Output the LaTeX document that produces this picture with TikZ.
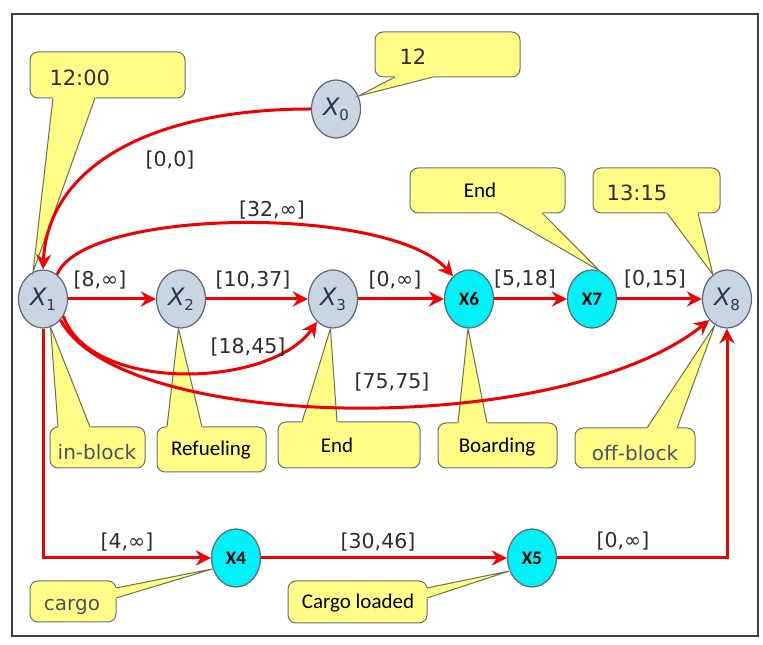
\documentclass[tikz,border=0pt]{standalone}
\usepackage{fontspec}
\setmainfont{DejaVu Sans}
\newfontfamily\calibrifont{Carlito}
\usetikzlibrary{arrows.meta,shapes.geometric}
\definecolor{nodegray}{RGB}{201,213,225}
\definecolor{nodeline}{RGB}{90,105,120}
\definecolor{nodetext}{RGB}{45,55,75}
\definecolor{cyannode}{RGB}{0,240,248}
\definecolor{noteyellow}{RGB}{255,255,136}
\definecolor{notegray}{RGB}{105,112,108}
\definecolor{slate}{RGB}{72,84,100}
\definecolor{labelgray}{RGB}{45,45,45}
\definecolor{edgered}{RGB}{240,0,0}
\def\xs#1{{\itshape X}\raisebox{-5pt}{\fontsize{15}{15}\selectfont #1}}
\begin{document}
\begin{tikzpicture}[x=1pt,y=1pt,
  xnode/.style={ellipse,draw=nodeline,line width=1.2pt,fill=nodegray,minimum width=49pt,
    minimum height=58pt,inner sep=0pt,text=nodetext,font=\fontsize{24}{24}\selectfont},
  cnode/.style={xnode,fill=cyannode,text=black,font=\calibrifont\bfseries\fontsize{19}{19}\selectfont},
  link/.style={draw=edgered,line width=3pt,-{Stealth[length=15pt,width=15pt,inset=5pt]}},
  lab/.style={text=labelgray,font=\fontsize{20.5}{20.5}\selectfont},
  stamp/.style={text=labelgray,font=\fontsize{21}{21}\selectfont},
  word/.style={text=black,font=\calibrifont\fontsize{21}{21}\selectfont},
  plain/.style={text=slate,font=\fontsize{20}{20}\selectfont},
  notebox/.style={fill=noteyellow,draw=notegray,line width=1pt,rounded corners=8pt},
  notegap/.style={fill=noteyellow,draw=noteyellow,line width=1.6pt,line join=round},
  noteline/.style={draw=notegray,line width=1pt}]
\useasboundingbox (0,0) rectangle (763,645);
\draw[line width=1.3pt,draw=black!75] (12,9) rectangle (758,631);
\def\note#1#2#3#4#5{
\draw[notebox] #1 rectangle #2;
\filldraw[notegap] #3 -- #5 -- #4 -- cycle;
\draw[noteline] #3 -- #5 -- #4;
}
\node[xnode] (x0) at (336,536) {\xs{0}};
\node[xnode] (x1) at (43,346) {\xs{1}};
\node[xnode] (x2) at (181,346) {\xs{2}};
\node[xnode] (x3) at (333,346) {\xs{3}};
\node[cnode] (x6) at (469,346) {X6};
\node[cnode] (x7) at (592,346) {X7};
\node[xnode] (x8) at (727,346) {\xs{8}};
\node[cnode] (x4) at (236,87) {X4};
\node[cnode] (x5) at (532,87) {X5};
\note{(30,547)}{(185,593)}{(53,547)}{(95,547)}{(x1.110)}
\node[stamp,right] (t1200) at (46,567) {12:00};
\note{(375,568)}{(520,613)}{(395,568)}{(433,568)}{(x0.30)}
\node[stamp,right] (t12) at (396,588) {12};
\note{(410,432)}{(565,477)}{(500,432)}{(542,432)}{(x7.75)}
\node[word] (tend1) at (480,455) {End};
\note{(593,432)}{(720,477)}{(667,432)}{(698,432)}{(x8.120)}
\node[stamp] (t1315) at (637,452) {13:15};
\note{(50,177)}{(145,218)}{(58,218)}{(90,218)}{(x1.-75)}
\node[plain] (tin) at (97,193) {in-block};
\note{(157,173)}{(266,218)}{(167,218)}{(202,218)}{(x2.-95)}
\node[word] (tref) at (211,195) {Refueling};
\note{(278,177)}{(420,223)}{(302,223)}{(337,223)}{(x3.-95)}
\node[word] (tend2) at (337,200) {End};
\note{(438,177)}{(557,222)}{(458,222)}{(487,222)}{(x6.-92)}
\node[word] (tboard) at (497,198) {Boarding};
\note{(575,177)}{(695,217)}{(647,217)}{(677,217)}{(x8.-115)}
\node[plain] (toff) at (635,192) {off-block};
\note{(30,23)}{(116,64)}{(116,57)}{(116,47)}{(x4.-155)}
\node[plain] (tcargo) at (72,38) {cargo};
\note{(288,22)}{(427,64)}{(427,57)}{(427,47)}{(x5.-150)}
\node[word] (tload) at (358,42) {Cargo loaded};
\draw[link] (x0.west) .. controls (150,536) and (48,478) .. (x1.north);
\draw[link] (x1.60) .. controls (85,438) and (390,440) .. (x6.125);
\draw[link] (x1) -- (x2);
\draw[link] (x2) -- (x3);
\draw[link] (x3) -- (x6);
\draw[link] (x6) -- (x7);
\draw[link] (x7) -- (x8);
\draw[link] (x1.-40) .. controls (90,252) and (270,256) .. (x3.-125);
\draw[link] (x1.-50) .. controls (120,212) and (560,205) .. (x8.-130);
\draw[link] (x1.south) |- (x4);
\draw[link] (x4) -- (x5);
\draw[link] (x5) -| (x8);
\node[lab] (l00) at (170,485) {[0,0]};
\node[lab] (l32) at (272,435) {[32,∞]};
\node[lab] (l8) at (100,365) {[8,∞]};
\node[lab] (l1037) at (253,365) {[10,37]};
\node[lab] (l0a) at (395,365) {[0,∞]};
\node[lab] (l518) at (525,366) {[5,18]};
\node[lab] (l015) at (655,366) {[0,15]};
\node[lab] (l1845) at (248,298) {[18,45]};
\node[lab] (l7575) at (392,263) {[75,75]};
\node[lab] (l4) at (127,103) {[4,∞]};
\node[lab] (l3046) at (378,103) {[30,46]};
\node[lab] (l0b) at (623,104) {[0,∞]};
\end{tikzpicture}
\end{document}
